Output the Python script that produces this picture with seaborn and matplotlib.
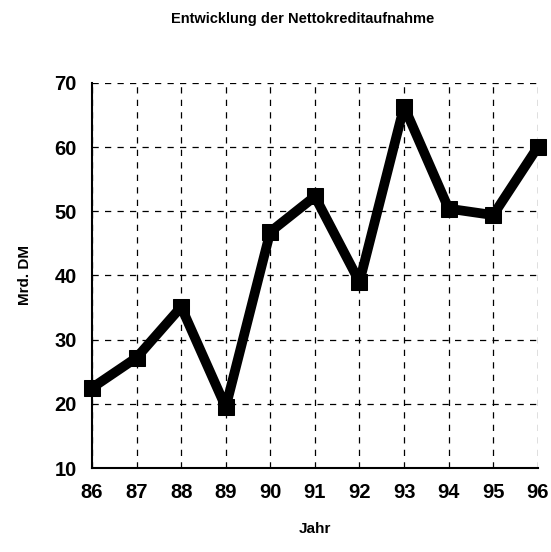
import pandas as pd
import matplotlib
matplotlib.use("Agg")
import matplotlib.pyplot as plt
import seaborn as sns

# values
years = [86, 87, 88, 89, 90, 91, 92, 93, 94, 95, 96]
kredit = [22.5, 27.2, 35.1, 19.5, 46.8, 52.3, 39.0, 66.3, 50.4, 49.4, 60.0]
y_ticks = [10, 20, 30, 40, 50, 60, 70]

df = pd.DataFrame({'Jahr': years, 'Mrd. DM': kredit})

sns.set_theme(style="white")
plt.rcParams['font.family'] = ['Liberation Sans', 'DejaVu Sans']

fig = plt.figure(figsize=(5.51, 5.52), dpi=100)
ax = fig.add_axes([0.167, 0.152, 0.809, 0.698])

sns.lineplot(data=df, x='Jahr', y='Mrd. DM', ax=ax, color='black', linewidth=7,
             marker='s', markersize=12, markeredgecolor='black', zorder=3,
             clip_on=False)

ax.set_xlim(86, 96)
ax.set_ylim(10, 70)
ax.set_xticks(years)
ax.set_yticks(y_ticks)
ax.grid(True, color='black', linestyle=(0, (5, 5)), linewidth=0.9)

for side in ['top', 'right']:
    ax.spines[side].set_visible(False)
for side in ['left', 'bottom']:
    ax.spines[side].set_color('black')
    ax.spines[side].set_linewidth(1.5)

ax.tick_params(axis='both', length=0, pad=11, labelsize=14.5, colors='black')
for lbl in ax.get_xticklabels() + ax.get_yticklabels():
    lbl.set_fontweight('bold')

ax.set_xlabel('Jahr', fontsize=11, fontweight='bold', labelpad=14, color='black')
ax.set_ylabel('Mrd. DM', fontsize=11, fontweight='bold', labelpad=16, color='black')
fig.text(0.55, 0.965, 'Entwicklung der Nettokreditaufnahme', ha='center', va='center',
         fontsize=10.5, fontweight='bold', color='black')

fig.savefig('out.png', dpi=100)
plt.close(fig)
